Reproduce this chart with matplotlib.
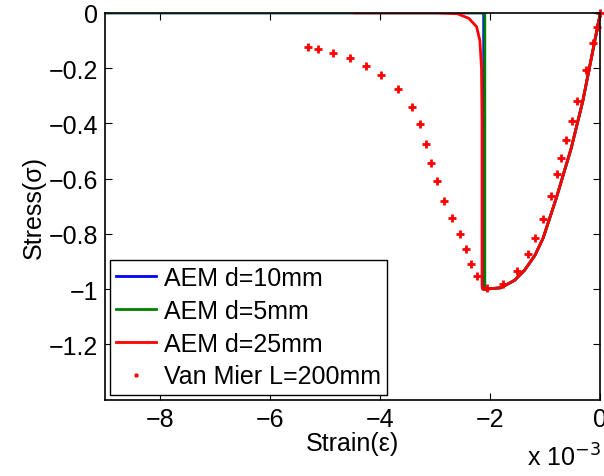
#!/usr/bin/env python
from matplotlib import pyplot as plt

plt.rcParams['font.family'] = ['Liberation Sans', 'DejaVu Sans']

# strain in units of 1e-3
# shared ascending (pre-peak) branch, from the peak back to the origin
pre_strain = [-2.12, -2.09, -1.81, -1.56, -1.38, -1.19, -1.04, -0.80, -0.53, -0.32, -0.17, 0.0]
pre_stress = [-1.0, -1.0, -0.995, -0.968, -0.932, -0.878, -0.815, -0.67, -0.49, -0.32, -0.17, 0.0]

# softening branches
blue_strain = [-9.0, -2.12, -2.12]
blue_stress = [0.0, 0.0, -1.0]
green_strain = [-9.0, -2.1, -2.1]
green_stress = [0.0, 0.0, -1.0]
red_strain = [-4.47, -3.0, -2.6, -2.39, -2.25, -2.19, -2.16, -2.15, -2.15, -2.14]
red_stress = [0.0, 0.0, -0.003, -0.02, -0.05, -0.1, -0.2, -0.4, -0.99, -1.0]

# experiment, Van Mier L=200mm
vm_strain = [-5.31, -5.13, -4.85, -4.55, -4.26, -3.98, -3.68, -3.43, -3.27, -3.17,
             -3.08, -2.97, -2.84, -2.69, -2.55, -2.44, -2.35, -2.24, -2.06, -1.77,
             -1.51, -1.31, -1.18, -1.04, -0.90, -0.79, -0.71, -0.63, -0.52, -0.42,
             -0.27, -0.14, -0.06, 0.0]
vm_stress = [-0.122, -0.131, -0.146, -0.165, -0.192, -0.225, -0.276, -0.340, -0.404, -0.473,
             -0.545, -0.609, -0.680, -0.743, -0.800, -0.855, -0.910, -0.954, -0.996, -0.980,
             -0.935, -0.874, -0.816, -0.746, -0.663, -0.583, -0.525, -0.462, -0.390, -0.318,
             -0.208, -0.110, -0.050, 0.0]

fig = plt.figure(figsize=(6.04, 4.77), dpi=100)
ax = fig.add_axes([0.174, 0.16, 0.82, 0.811])

ax.plot(blue_strain + pre_strain, blue_stress + pre_stress, color='#0000ff', lw=2, label='AEM d=10mm')
ax.plot(green_strain + pre_strain, green_stress + pre_stress, color='#008000', lw=2, label='AEM d=5mm')
ax.plot(red_strain + pre_strain, red_stress + pre_stress, color='#ff0000', lw=2, label='AEM d=25mm')
ax.plot(vm_strain, vm_stress, ls='none', marker='+', ms=6, mew=2, color='#ff0000',
        label='Van Mier L=200mm', clip_on=False)

ax.set_xlim(-9, 0)
ax.set_ylim(-1.4, 0)
ax.set_xticks([-8, -6, -4, -2, 0])
ax.set_xticklabels(['\u22128', '\u22126', '\u22124', '\u22122', '0'])
yt = [0, -0.2, -0.4, -0.6, -0.8, -1, -1.2]
ax.set_yticks(yt)
ax.set_yticklabels(['0', '\u22120.2', '\u22120.4', '\u22120.6', '\u22120.8', '\u22121', '\u22121.2'])
ax.tick_params(direction='in', top=True, right=True, labelsize=18, length=5, width=0.8, pad=5)
for s in ax.spines.values():
    s.set_linewidth(1.2)

ax.set_xlabel('Strain(\u03b5)', fontsize=18, labelpad=0)
ax.set_ylabel('Stress(\u03c3)', fontsize=18, labelpad=2)
fig.text(0.873, 0.022, 'x 10$^{\u22123}$', fontsize=18)

leg = ax.legend(loc='lower left', fontsize=18, handlelength=1.6, handletextpad=0.3,
                labelspacing=0.35, borderpad=0.25, borderaxespad=0.2, fancybox=False,
                framealpha=1, edgecolor='black', markerscale=0.6)
leg.get_frame().set_linewidth(1.0)

fig.savefig('out.png', dpi=100)
